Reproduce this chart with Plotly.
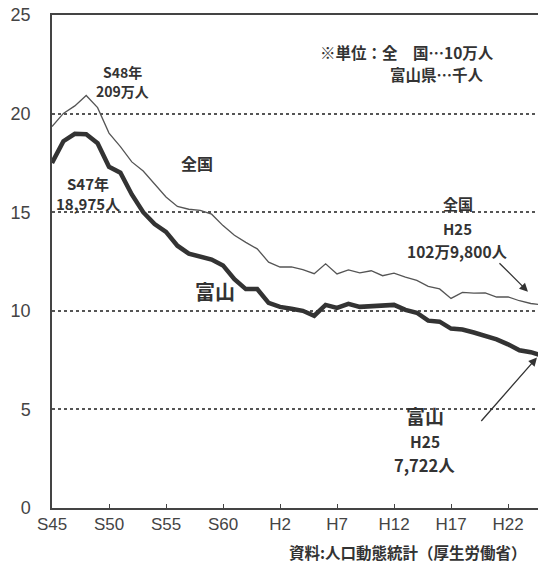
import plotly.graph_objects as go

years = list(range(1970, 2014))
# 全国 出生数 (10万人)
national = [19.34, 20.01, 20.39, 20.92, 20.30, 19.01, 18.33, 17.55, 17.09, 16.43,
            15.77, 15.29, 15.15, 15.09, 14.90, 14.32, 13.83, 13.47, 13.14, 12.47,
            12.22, 12.23, 12.09, 11.88, 12.38, 11.87, 12.07, 11.92, 12.03, 11.78,
            11.91, 11.71, 11.54, 11.24, 11.11, 10.63, 10.93, 10.90, 10.91, 10.70,
            10.71, 10.51, 10.37, 10.30]
# 富山 出生数 (千人)
toyama = [17.5, 18.6, 18.975, 18.95, 18.5, 17.3, 17.0, 15.9, 15.0, 14.4,
          14.0, 13.3, 12.9, 12.75, 12.6, 12.3, 11.6, 11.1, 11.1, 10.4,
          10.2, 10.1, 10.0, 9.75, 10.3, 10.15, 10.35, 10.2, 10.25, 10.25,
          10.3, 10.05, 9.9, 9.5, 9.45, 9.1, 9.05, 8.9, 8.75, 8.55,
          8.3, 8.0, 7.9, 7.72]

tick_vals = [1970, 1975, 1980, 1985, 1990, 1995, 2000, 2005, 2010]
tick_text = ["S45", "S50", "S55", "S60", "H2", "H7", "H12", "H17", "H22"]
y_ticks = [0, 5, 10, 15, 20, 25]

JP = "Noto Sans CJK JP"
TXT = "#333333"

fig = go.Figure()
fig.add_trace(go.Scatter(x=years, y=national, mode="lines",
                         line=dict(color="#555555", width=1.3), name="全国"))
fig.add_trace(go.Scatter(x=years, y=toyama, mode="lines",
                         line=dict(color="#333333", width=4.5), name="富山"))

def ann(text, x, y, size, weight="bold", **kw):
    d = dict(text=text, x=x, y=y, xref="x", yref="y", showarrow=False,
             font=dict(family=JP, size=size, color=TXT, weight=weight))
    d.update(kw)
    fig.add_annotation(**d)

ann("S48年", 1976.2, 22.1, 14)
ann("209万人", 1976.2, 21.15, 14)
ann("全国", 1982.7, 17.5, 16)
ann("S47年", 1973.2, 16.45, 15)
ann("18,975人", 1973.2, 15.45, 15)
ann("※単位：全　国…10万人", 1993.3, 23.13, 15.5, xanchor="left")
ann("富山県…千人", 1999.5, 22.0, 15.5, xanchor="left")
ann("全国", 2005.6, 15.45, 15)
ann("H25", 2005.6, 14.15, 15)
ann("102万9,800人", 2005.6, 13.05, 15.5)
ann("富山", 1984.3, 10.97, 20)
ann("富山", 2002.7, 4.69, 19)
ann("H25", 2002.7, 3.38, 15.5)
ann("7,722人", 2002.7, 2.17, 16.5)

# arrows
fig.add_annotation(x=2011.75, y=10.97, xref="x", yref="y", ax=-30, ay=-30,
                   showarrow=True, arrowhead=2, arrowsize=1.3, arrowwidth=1.3,
                   arrowcolor="#333333", text="")
fig.add_annotation(x=2012.54, y=7.63, xref="x", yref="y", ax=-57, ay=65,
                   showarrow=True, arrowhead=2, arrowsize=1.3, arrowwidth=1.3,
                   arrowcolor="#333333", text="")

fig.add_annotation(text="資料:人口動態統計（厚生労働省）", x=0.733, y=-0.09,
                   xref="paper", yref="paper", showarrow=False,
                   xanchor="center", yanchor="middle",
                   font=dict(family=JP, size=15.5, color=TXT, weight="bold"))

fig.update_layout(
    width=538, height=564,
    margin=dict(l=52, r=0, t=15, b=56),
    paper_bgcolor="white", plot_bgcolor="white",
    showlegend=False,
    xaxis=dict(range=[1970, 2012.63], tickvals=tick_vals, ticktext=tick_text,
               showgrid=False, zeroline=False, showline=True, linecolor="#444444",
               linewidth=1.5, mirror=True, ticks="inside", ticklen=4, tickcolor="#444444",
               tickfont=dict(family="Liberation Sans", size=17, color="#444444")),
    yaxis=dict(range=[0, 25], tickvals=y_ticks, showgrid=True, gridcolor="#555555",
               griddash="dot", gridwidth=1.5, zeroline=False, showline=True,
               linecolor="#444444", linewidth=1.5, ticks="",
               ticklabelstandoff=16,
               tickfont=dict(family="Liberation Sans", size=18, color="#444444")),
)

fig.write_html("out.html", config={"displayModeBar": False},
               post_script="document.body.style.margin='0';document.body.style.overflow='hidden';")
